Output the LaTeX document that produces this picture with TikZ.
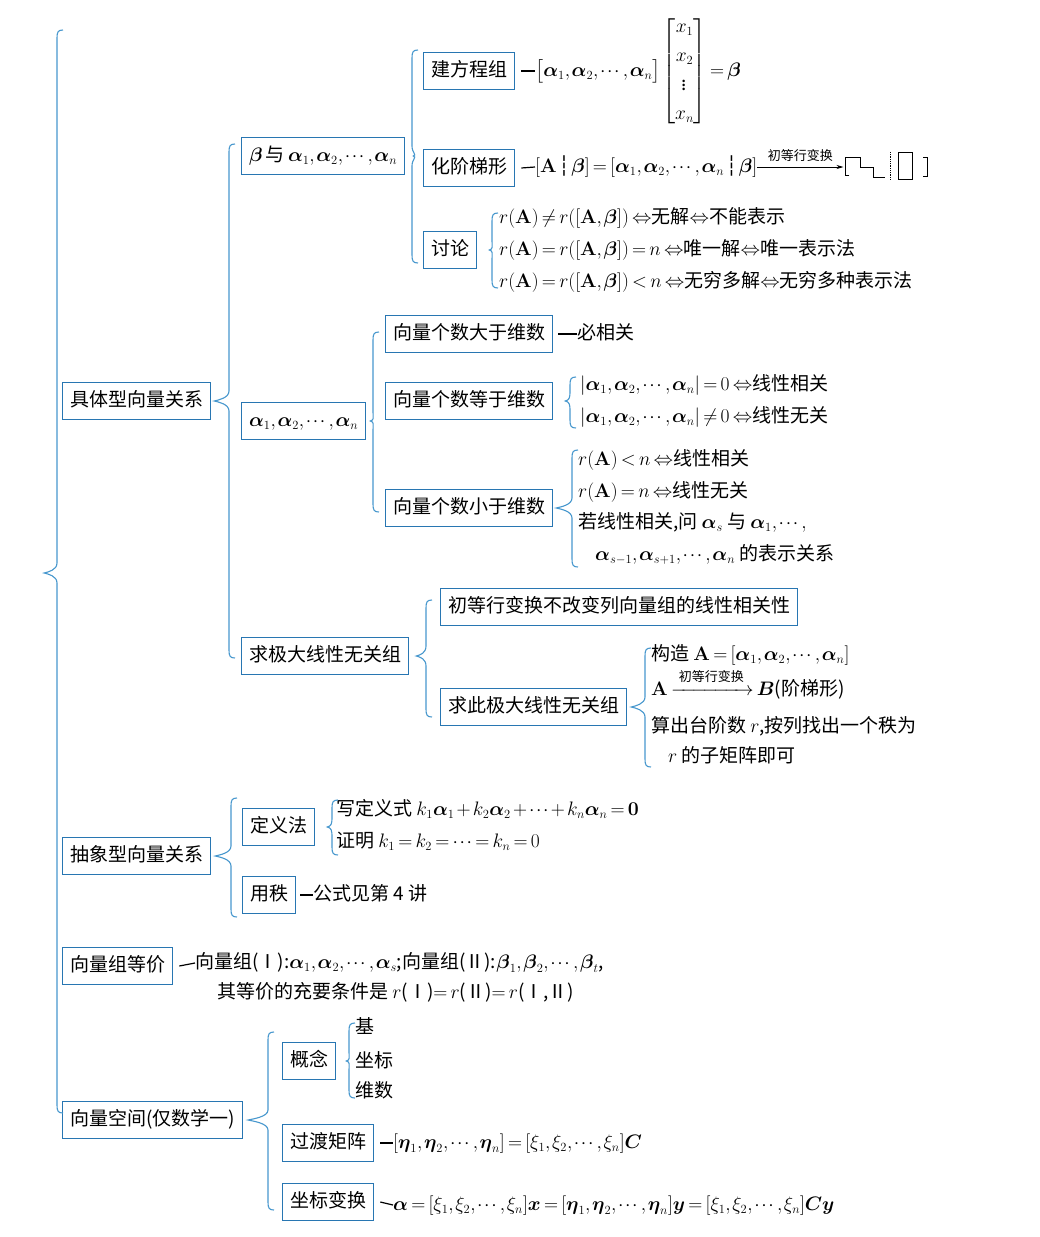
\RequirePackage{fix-cm}
\documentclass[tikz,border=0pt]{standalone}
\usepackage{amsmath,amssymb}
\usepackage[no-math]{fontspec}
\setmainfont{Noto Sans CJK SC}
\newfontfamily\djv{DejaVu Sans}
\usetikzlibrary{arrows.meta, calc}
\definecolor{boxblue}{RGB}{40,118,178}
\definecolor{braceblue}{RGB}{72,152,206}
\DeclareMathSizes{19}{19.5}{12.5}{10}
\thinmuskip=1.5mu
\medmuskip=2mu plus 1mu
\thickmuskip=3mu plus 2mu

\newcommand{\bv}[1]{\boldsymbol{#1}}
\newcommand{\dsep}{\,\text{\djv ┆}\,}
\newcommand{\smalllbl}[1]{\raisebox{3pt}{\fontsize{13}{15}\selectfont\hspace{4pt}#1\hspace{4pt}}}

\tikzset{
  box/.style={draw=boxblue, line width=1.3pt, anchor=west, inner xsep=7.5pt,
    minimum height=37pt, text height=15pt, text depth=4pt},
  leaf/.style={anchor=west, inner sep=0pt, text height=15pt, text depth=4pt},
  brc/.style={draw=braceblue, line width=1.1pt},
  dashln/.style={line width=1.2pt},
  arr/.style={-{Stealth[length=7pt,width=4pt]}, line width=0.7pt},
  stair/.style={line width=0.8pt},
}

% brace: parent, first child, last child, gap to line, cusp shift, raise top, drop bottom
\newcommand{\brc}[7]{%
  \draw[brc] let \p1=($(#1.east)+(#5,0)$),
                 \p2=($(#2.west)+({-(#4)},{-(#6)})$),
                 \p3=($(#3.west)+(0,{#7})$) in
    (\x2+6pt,\y2) .. controls (\x2+1pt,\y2) and (\x2,\y2-2pt) .. (\x2,\y2-8pt)
    -- (\x2,\y1+10pt) .. controls (\x2,\y1+3pt) and (\x1+4pt,\y1+1pt) .. (\x1,\y1)
    .. controls (\x1+4pt,\y1-1pt) and (\x2,\y1-3pt) .. (\x2,\y1-10pt)
    -- (\x2,\y3+8pt) .. controls (\x2,\y3+2pt) and (\x2+1pt,\y3) .. (\x2+6pt,\y3);
}

\begin{document}
\begin{tikzpicture}[x=1pt, y=-1pt, font=\fontsize{19}{22}\selectfont]
  \path[use as bounding box, fill=white] (0,0) rectangle (1040,1237);

  % level 1
  \node[inner sep=0pt, minimum size=0pt] (root) at (44,573) {};
  \node[box] (jt) at (62,401) {具体型向量关系};
  \node[box] (cx) at (62,856) {抽象型向量关系};
  \node[box] (dj) at (62,966) {向量组等价};
  \node[box] (kj) at (62,1120) {向量空间(仅数学一)};

  % concrete relations
  \node[box] (ba) at (241,156) {$\bv\beta$\,与\,$\bv\alpha_1,\bv\alpha_2,\cdots,\bv\alpha_n$};
  \node[box] (aa) at (241,421) {$\bv\alpha_1,\bv\alpha_2,\cdots,\bv\alpha_n$};
  \node[box] (jd) at (241,656) {求极大线性无关组};

  \node[box] (fc) at (423,71) {建方程组};
  \node[box] (hj) at (423,168) {化阶梯形};
  \node[box] (tl) at (423,250) {讨论};

  \node[leaf] (fcl) at (535,71) {$\bigl[\bv\alpha_1,\bv\alpha_2,\cdots,\bv\alpha_n\bigr]
    \begin{bmatrix}x_1\\[7pt]x_2\\[6pt]\vdots\\[7pt]x_n\end{bmatrix}=\bv\beta$};
  \node[leaf] (hjl) at (535,167) {$[\mathbf A\dsep\bv\beta]=[\bv\alpha_1,\bv\alpha_2,\cdots,\bv\alpha_n\dsep\bv\beta]$};
  \coordinate (st) at ($(hjl.east)+(86,0)$);
  \draw[dashln] ([xshift=6pt]fc.east) -- (fcl.west);
  \draw[dashln] ([xshift=6pt]hj.east) -- (hjl.west);
  \draw[arr] (hjl.east) -- node[above=2pt, font=\fontsize{13}{15}\selectfont] {初等行变换} (st);
  \draw[stair] ($(st)+(6,8)$) -- ++(-4,0) -- ++(0,-18) -- ++(15,0) -- ++(0,10)
    -- ++(13,0) -- ++(0,10) -- ++(12,0);
  \draw[stair, densely dotted] ($(st)+(47,-15)$) -- ++(0,28);
  \draw[stair] ($(st)+(55,-15)$) rectangle ++(14,27);
  \draw[stair] ($(st)+(80,-10)$) -- ++(4,0) -- ++(0,19) -- ++(-4,0);

  \node[leaf] (t1) at (499,218) {$r(\mathbf A)\neq r([\mathbf A,\bv\beta])\Leftrightarrow$无解$\Leftrightarrow$不能表示};
  \node[leaf] (t2) at (499,250) {$r(\mathbf A)=r([\mathbf A,\bv\beta])=n\Leftrightarrow$唯一解$\Leftrightarrow$唯一表示法};
  \node[leaf] (t3) at (499,282) {$r(\mathbf A)=r([\mathbf A,\bv\beta])<n\Leftrightarrow$无穷多解$\Leftrightarrow$无穷多种表示法};

  \node[box] (gt) at (385,334) {向量个数大于维数};
  \node[box] (dy) at (385,401) {向量个数等于维数};
  \node[box] (xy) at (385,508) {向量个数小于维数};

  \node[leaf] (gtl) at (577,334) {必相关};
  \draw[dashln] ([xshift=5pt]gt.east) -- (gtl.west);
  \node[leaf] (d1) at (580,385) {$|\bv\alpha_1,\bv\alpha_2,\cdots,\bv\alpha_n|=0\Leftrightarrow$线性相关};
  \node[leaf] (d2) at (580,417) {$|\bv\alpha_1,\bv\alpha_2,\cdots,\bv\alpha_n|\neq0\Leftrightarrow$线性无关};
  \node[leaf] (x1) at (578,460) {$r(\mathbf A)<n\Leftrightarrow$线性相关};
  \node[leaf] (x2) at (578,492) {$r(\mathbf A)=n\Leftrightarrow$线性无关};
  \node[leaf] (x3) at (578,523) {若线性相关,问 $\bv\alpha_s$ 与 $\bv\alpha_1,\cdots,$};
  \node[leaf] (x4) at (595,555) {$\bv\alpha_{s-1},\bv\alpha_{s+1},\cdots,\bv\alpha_n$ 的表示关系};

  \node[box] (bg) at (440,607) {初等行变换不改变列向量组的线性相关性};
  \node[box] (qc) at (440,707) {求此极大线性无关组};
  \node[leaf] (q1) at (651,655) {构造 $\mathbf A=[\bv\alpha_1,\bv\alpha_2,\cdots,\bv\alpha_n]$};
  \node[leaf] (q2) at (651,690) {$\mathbf A\xrightarrow{\smalllbl{初等行变换}}\bv B$(阶梯形)};
  \node[leaf] (q3) at (651,727) {算出台阶数 $r$,按列找出一个秩为};
  \node[leaf] (q4) at (668,757) {$r$ 的子矩阵即可};

  % abstract relations
  \node[box] (dyf) at (242,827) {定义法};
  \node[box] (yz) at (242,895) {用秩};
  \node[leaf] (e1) at (336,810) {写定义式 $k_1\bv\alpha_1+k_2\bv\alpha_2+\cdots+k_n\bv\alpha_n=\mathbf 0$};
  \node[leaf] (e2) at (336,842) {证明 $k_1=k_2=\cdots=k_n=0$};
  \node[leaf] (yzl) at (313,895) {公式见第 4 讲};
  \draw[dashln] ([xshift=4pt]yz.east) -- (yzl.west);

  % equivalence
  \node[leaf] (j1) at (195,963) {向量组(Ⅰ):$\bv\alpha_1,\bv\alpha_2,\cdots,\bv\alpha_s$;向量组(Ⅱ):$\bv\beta_1,\bv\beta_2,\cdots,\bv\beta_t$,};
  \node[leaf] (j2) at (217,993) {其等价的充要条件是 $r$(Ⅰ)$=r$(Ⅱ)$=r$(Ⅰ,Ⅱ)};
  \draw[dashln] ([xshift=6pt]dj.east) -- (j1.west);

  % vector space
  \node[box] (gn) at (282,1061) {概念};
  \node[box] (gd) at (282,1143) {过渡矩阵};
  \node[box] (zb) at (282,1202) {坐标变换};
  \node[leaf] (g1) at (355,1028) {基};
  \node[leaf] (g2) at (355,1062) {坐标};
  \node[leaf] (g3) at (355,1092) {维数};
  \node[leaf] (gdl) at (393,1143) {$[\bv\eta_1,\bv\eta_2,\cdots,\bv\eta_n]=[\xi_1,\xi_2,\cdots,\xi_n]\bv C$};
  \node[leaf] (zbl) at (393,1205) {$\bv\alpha=[\xi_1,\xi_2,\cdots,\xi_n]\bv x=[\bv\eta_1,\bv\eta_2,\cdots,\bv\eta_n]\bv y=[\xi_1,\xi_2,\cdots,\xi_n]\bv C\bv y$};
  \draw[dashln] ([xshift=6pt]gd.east) -- (gdl.west);
  \draw[dashln] ([xshift=6pt]zb.east) -- (zbl.west);

  % braces
  \brc{root}{jt}{kj}{5}{0}{371}{-7}
  \brc{jt}{ba}{jd}{12}{3}{12}{2}
  \brc{ba}{fc}{tl}{11}{8}{21}{13}
  \brc{aa}{gt}{xy}{12}{4}{2}{4}
  \brc{jd}{bg}{qc}{14}{7}{7}{10}
  \brc{tl}{t1}{t3}{7}{12}{5}{6}
  \brc{dy}{d1}{d2}{10}{12}{8}{11}
  \brc{xy}{x1}{x4}{6}{3}{10}{12}
  \brc{qc}{q1}{q4}{6}{4}{7}{10}
  \brc{cx}{dyf}{yz}{11}{4}{29}{22}
  \brc{dyf}{e1}{e2}{4}{12}{10}{13}
  \brc{kj}{gn}{zb}{14}{5}{29}{8}
  \brc{gn}{g1}{g3}{6}{10}{5}{6}
\end{tikzpicture}
\end{document}
